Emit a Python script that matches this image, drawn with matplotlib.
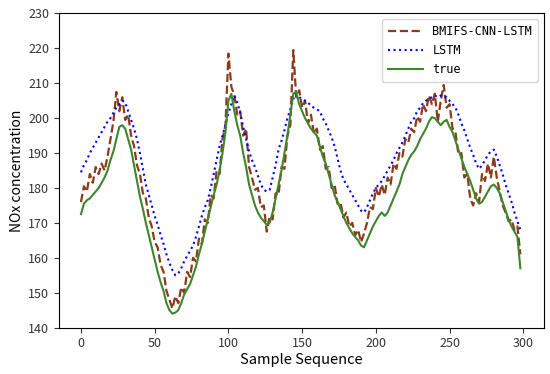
import numpy as np
import matplotlib
matplotlib.use("Agg")
import matplotlib.pyplot as plt

# sample index (every 2nd step of the 300-step test sequence)
sample = np.arange(0, 300, 2)

# predicted by BMIFS-CNN-LSTM
bmifs = [176, 180.5, 179, 184, 181.5, 186, 184, 187, 185, 189,
         194, 199, 207.5, 202, 206, 199.5, 201, 195, 192, 186.5,
         184, 178.5, 177, 171.5, 169, 164.5, 163, 158, 156, 150.5,
         148, 145.5, 149, 147, 151.5, 150, 156, 154.5, 160, 159,
         165.5, 164, 171, 170, 178, 177, 185, 184, 194, 198,
         218.5, 209, 206.5, 201, 202, 195, 197, 186, 183, 179.5,
         180, 174.5, 175, 167.5, 172, 171, 178.5, 178, 186, 185.5,
         195, 198, 219.5, 206, 208, 203, 205, 198.5, 201, 195.5,
         197, 191, 192, 185.5, 186, 180, 181, 175.5, 176, 171.5,
         173, 169, 170, 166.5, 168, 164.5, 167, 170, 174.5, 174,
         180, 177.5, 181, 178, 183, 181, 187, 185.5, 190, 189,
         194, 193, 197, 196, 200.5, 199, 204, 202, 206.5, 204,
         207, 199, 205, 209.5, 203, 204, 197, 196, 189.5, 190,
         183, 184, 177, 175, 178.5, 176, 184, 182, 187, 183,
         189, 183, 179, 175, 173, 170.5, 171, 168, 169, 161]

# predicted by LSTM
lstm = [184.5, 186.5, 188, 190, 191.5, 193, 194.5, 196, 197.5, 199,
        200, 201.5, 203, 204, 205, 204.5, 202, 199.5, 197, 194,
        190, 185.5, 181, 178, 175, 172, 169.5, 166.5, 164, 161,
        158.5, 156.5, 155, 155.5, 157, 159, 160.5, 162, 163.5, 166,
        169, 172, 174.5, 176.5, 180, 184, 188, 192, 195, 198,
        201.5, 204, 206.5, 204.5, 201.5, 197.5, 194, 190.5, 188, 186,
        183.5, 181, 179.5, 179, 179.5, 183, 186.5, 191, 193.5, 196.5,
        200, 202.5, 205.5, 207, 206, 205.5, 205, 204.5, 203.5, 203,
        202.5, 202, 200, 198.5, 196.5, 194.5, 192, 188.5, 185, 182.5,
        181, 179.5, 178, 176.5, 175, 173.5, 173, 174.5, 176.5, 178.5,
        180, 181, 182, 183.5, 185, 186.5, 188, 190, 191.5, 193,
        195, 197, 199, 200, 202, 203, 204.3, 205, 205.5, 206,
        206.5, 206, 206.5, 206, 206, 205, 204, 203, 201, 198.5,
        196.5, 194, 191.5, 189.5, 187, 185.5, 186.5, 188, 189.5, 190.5,
        191, 189, 186.5, 184, 181, 178.5, 176, 173, 170.5, 168]

# measured values
true = [172.5, 175.5, 176.5, 177, 178, 179, 180, 181.5, 183, 185,
        188, 190.5, 194, 197.5, 198, 197, 194, 191, 186.5, 182,
        177.5, 174, 170, 166.5, 163, 159.5, 156, 153, 150.5, 147,
        145, 144, 144.3, 145, 147, 149.5, 151, 152.5, 155, 157.5,
        161, 164, 167.5, 171, 174.5, 178, 181, 185, 190, 196,
        205, 207, 202, 198, 195, 190, 186, 181, 178, 175,
        173, 171.5, 170.5, 169.5, 170, 173, 177, 181, 185, 190,
        195, 201, 207, 207.5, 204, 202, 200, 198.5, 197, 196,
        195, 192, 189, 187, 184, 181, 178, 176, 174, 172,
        170, 168.5, 167, 166, 165, 163.5, 163, 165, 167, 169,
        170.5, 172, 173, 172, 173, 175, 177, 179, 181, 184,
        186, 188, 189.5, 190.5, 192, 194, 195.5, 197, 199, 200.3,
        200, 199, 198, 199, 199.5, 197.5, 196, 193.5, 191, 188.5,
        186, 184, 182, 179.5, 177, 175.5, 176, 177.5, 179, 180.5,
        181, 180, 178.5, 176, 173.5, 171, 169, 167.5, 166, 157]

plt.rcParams['font.family'] = ['Noto Sans CJK SC', 'DejaVu Sans']

fig = plt.figure(figsize=(5.5, 3.74), dpi=100)
ax = fig.add_axes([0.107, 0.124, 0.882, 0.840])

ax.plot(sample, bmifs, color='#8b3a1a', linestyle='--', linewidth=1.6, label='BMIFS-CNN-LSTM')
ax.plot(sample, lstm, color='blue', linestyle=':', linewidth=1.5, label='LSTM')
ax.plot(sample, true, color='#3d862c', linestyle='-', linewidth=1.5, label='true')

ax.set_ylim(140, 230)
ax.set_xlim(-15, 314)
ax.set_xticks([0, 50, 100, 150, 200, 250, 300])
ax.tick_params(labelsize=9, colors='#333333')
ax.set_xlabel('Sample Sequence', fontsize=10.5, labelpad=2)
ax.set_ylabel('NOx concentration', fontsize=10, labelpad=3)

ax.legend(loc='upper right', prop={'family': 'DejaVu Sans Mono', 'size': 8.5},
          handlelength=3, borderpad=0.5, labelspacing=0.5)

fig.savefig('out.png', dpi=100)
